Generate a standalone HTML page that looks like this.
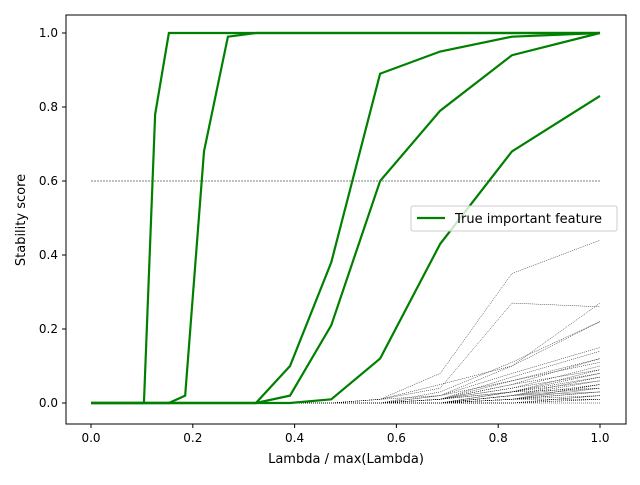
<!DOCTYPE html>
<html><head><meta charset="utf-8"><style>
body{margin:0;background:#fff;font-family:"Liberation Sans",sans-serif}
svg text{font-family:"DejaVu Sans","Liberation Sans",sans-serif}
</style></head><body>
<svg id="c" width="640" height="480" xmlns="http://www.w3.org/2000/svg">
<rect x="0" y="0" width="640" height="480" fill="#fff"/>
<g id="plot"></g>
<rect x="66" y="15" width="560" height="409" fill="none" stroke="#000" stroke-width="1"/>
<g id="ticks"></g>
<text x="346" y="463" font-size="13" text-anchor="middle">Lambda / max(Lambda)</text>
<text x="25" y="220" font-size="13" text-anchor="middle" transform="rotate(-90 25 220)">Stability score</text>
<g>
<rect x="411" y="206" width="206" height="25" rx="2" fill="#fff" fill-opacity="0.8" stroke="#ccc"/>
<line x1="417" y1="218" x2="445" y2="218" stroke="green" stroke-width="2.2"/>
<text x="455" y="223" font-size="13">True important feature</text>
</g>
</svg>
<script>
const lambdas=[0,0.104,0.126,0.153,0.185,0.222,0.269,0.324,0.391,0.472,0.568,0.686,0.827,1.0];
const trueSeries1=[0,0,0.78,1,1,1,1,1,1,1,1,1,1,1];
const trueSeries2=[0,0,0,0,0.02,0.68,0.99,1,1,1,1,1,1,1];
const trueSeries3=[0,0,0,0,0,0,0,0,0.10,0.38,0.89,0.95,0.99,1];
const trueSeries4=[0,0,0,0,0,0,0,0,0.02,0.21,0.60,0.79,0.94,1];
const trueSeries5=[0,0,0,0,0,0,0,0,0,0.01,0.12,0.43,0.68,0.83];
const threshold=0.6;
const xTicks=[0,0.2,0.4,0.6,0.8,1.0];
const yTicks=[0,0.2,0.4,0.6,0.8,1.0];
const noiseLast4=[
[0.01,0.08,0.35,0.44],[0.01,0.04,0.27,0.26],[0.01,0.05,0.10,0.27],[0.01,0.02,0.10,0.22],[0,0.03,0.11,0.22],
[0,0.02,0.08,0.15],[0,0.01,0.07,0.14],[0,0.02,0.06,0.12],[0,0.01,0.05,0.12],[0,0.01,0.06,0.11],
[0,0.01,0.04,0.10],[0,0.01,0.05,0.09],[0,0.01,0.03,0.09],[0,0.01,0.04,0.08],[0,0.00,0.03,0.08],
[0,0.01,0.03,0.07],[0,0.00,0.02,0.07],[0,0.00,0.03,0.06],[0,0.00,0.02,0.06],[0,0.00,0.02,0.05],
[0,0.00,0.01,0.05],[0,0.00,0.02,0.04],[0,0.00,0.01,0.04],[0,0.00,0.01,0.03],[0,0.00,0.01,0.03],
[0,0.00,0.00,0.02],[0,0.00,0.01,0.02],[0,0.00,0.00,0.02],[0,0.00,0.00,0.01],[0,0.00,0.01,0.01],
[0,0.00,0.00,0.01],[0,0.00,0.00,0.00],[0,0.00,0.02,0.03],[0,0.00,0.01,0.05],[0,0.00,0.03,0.04]];
const noiseEarly=[0,0,0,0,0,0,0,0,0,0];
const X=v=>91+509*v, Y=v=>403-370*v;
const NS="http://www.w3.org/2000/svg";
const plot=document.getElementById('plot'), tk=document.getElementById('ticks');
function line(vals,stroke,w,dash,name){
 const p=document.createElementNS(NS,'polyline');
 p.setAttribute('points',vals.map((v,i)=>X(lambdas[i])+','+Y(v)).join(' '));
 p.setAttribute('fill','none');p.setAttribute('stroke',stroke);p.setAttribute('stroke-width',w);
 if(dash)p.setAttribute('stroke-dasharray',dash);
 
 
 plot.appendChild(p);
}
noiseLast4.forEach(n=>{
 line(noiseEarly.concat(n),'#000',0.5,'1,1','noise-feature-line');
});
const th=document.createElementNS(NS,'line');
th.setAttribute('x1',X(0));th.setAttribute('x2',X(1));th.setAttribute('y1',Y(threshold));th.setAttribute('y2',Y(threshold));
th.setAttribute('stroke','#000');th.setAttribute('stroke-width','0.5');th.setAttribute('stroke-dasharray','2,1');


plot.appendChild(th);
[trueSeries1,trueSeries2,trueSeries3,trueSeries4,trueSeries5].forEach(s=>line(s,'green',2.2,null,'true-feature-line'));
xTicks.forEach(t=>{
 const l=document.createElementNS(NS,'line');
 l.setAttribute('x1',X(t));l.setAttribute('x2',X(t));l.setAttribute('y1',424);l.setAttribute('y2',428);l.setAttribute('stroke','#000');
 
 
 tk.appendChild(l);
 const tx=document.createElementNS(NS,'text');
 tx.setAttribute('x',X(t));tx.setAttribute('y',442);tx.setAttribute('font-size','12');tx.setAttribute('text-anchor','middle');
 tx.textContent=t.toFixed(1);
 
 
 tk.appendChild(tx);
});
yTicks.forEach(t=>{
 const l=document.createElementNS(NS,'line');
 l.setAttribute('x1',62);l.setAttribute('x2',66);l.setAttribute('y1',Y(t));l.setAttribute('y2',Y(t));l.setAttribute('stroke','#000');
 
 
 tk.appendChild(l);
 const tx=document.createElementNS(NS,'text');
 tx.setAttribute('x',58);tx.setAttribute('y',Y(t)+4);tx.setAttribute('font-size','12');tx.setAttribute('text-anchor','end');
 tx.textContent=t.toFixed(1);
 
 
 tk.appendChild(tx);
});
</script>
</body></html>
